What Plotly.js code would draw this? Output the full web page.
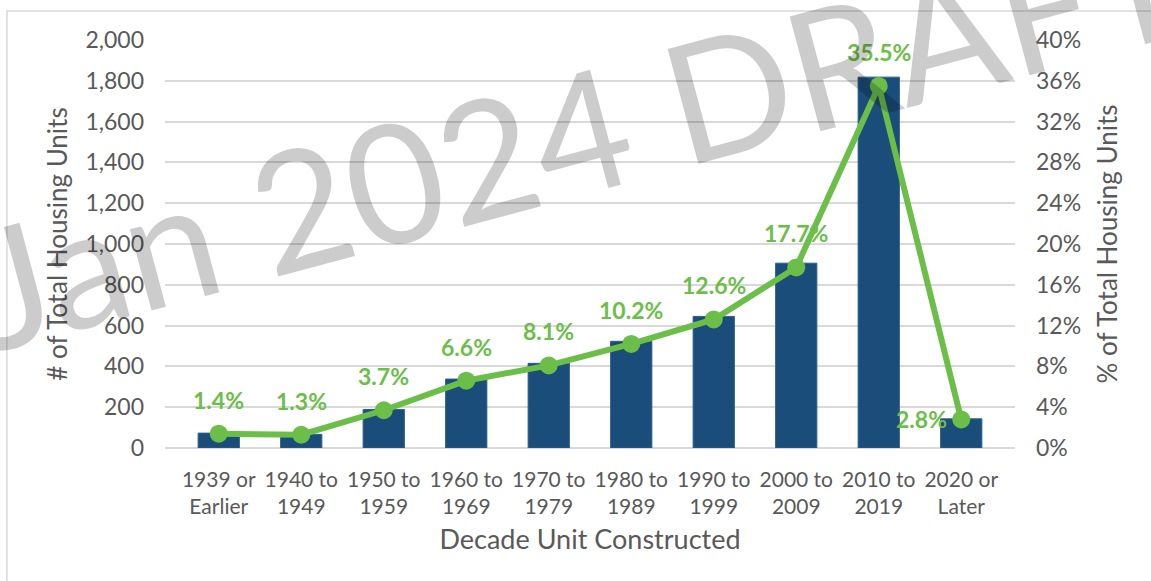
<!DOCTYPE html>
<html>
<head>
<meta charset="utf-8">
<script src="https://cdn.plot.ly/plotly-3.0.1.min.js"></script>
<style>
  html, body { margin: 0; padding: 0; background: #fff; }
  #chart { width: 1151px; height: 581px; }
</style>
</head>
<body>
<div id="chart"></div>
<script>
// Housing units by decade built
const decades = [
  "1939 or<br>Earlier", "1940 to<br>1949", "1950 to<br>1959", "1960 to<br>1969", "1970 to<br>1979",
  "1980 to<br>1989", "1990 to<br>1999", "2000 to<br>2009", "2010 to<br>2019", "2020 or<br>Later"
];
const unitCounts = [73, 67, 189, 338, 415, 523, 645, 906, 1818, 143];
const unitShares = [0.014, 0.013, 0.037, 0.066, 0.081, 0.102, 0.126, 0.177, 0.355, 0.028];
const shareLabels = ["1.4%", "1.3%", "3.7%", "6.6%", "8.1%", "10.2%", "12.6%", "17.7%", "35.5%", "2.8%"];
const countTicks = [0, 200, 400, 600, 800, 1000, 1200, 1400, 1600, 1800, 2000];
const shareTicks = [0, 0.04, 0.08, 0.12, 0.16, 0.20, 0.24, 0.28, 0.32, 0.36, 0.40];

const barColor = "#1a4d7a";
const lineColor = "#6bbe48";
const textColor = "#595959";
const gridColor = "#d9d9d9";
const fontFamily = "Lato, 'Noto Sans', sans-serif";

// Bars for counts (left axis)
const barTrace = {
  x: decades,
  y: unitCounts,
  type: "bar",
  marker: { color: barColor, line: { color: "#2c5f8c", width: 1 } },
  hoverinfo: "skip",
};

// Line for share (right axis)
const lineTrace = {
  x: decades,
  y: unitShares,
  yaxis: "y2",
  type: "scatter",
  mode: "lines+markers",
  line: { color: lineColor, width: 6 },
  marker: { color: lineColor, size: 18 },
  hoverinfo: "skip",
};

// Data labels, placed above each point (last one to the left)
const labelAnnotations = shareLabels.map((label, i) => {
  const isLast = i === shareLabels.length - 1;
  return {
    x: decades[i],
    y: unitShares[i],
    xref: "x",
    yref: "y2",
    text: "<b>" + label + "</b>",
    showarrow: false,
    font: { family: fontFamily, size: 23, color: lineColor },
    xanchor: isLast ? "right" : "center",
    yanchor: "middle",
    xshift: isLast ? -12 : 0,
    yshift: isLast ? 0 : 34,
  };
});

// "Jan 2024 DRAFT" watermark across the chart
const watermark = {
  text: "Jan 2024 DRAFT",
  xref: "paper",
  yref: "paper",
  x: 0.49,
  y: 0.784,
  xanchor: "center",
  yanchor: "middle",
  showarrow: false,
  textangle: -15,
  font: { family: fontFamily, size: 166, color: "rgba(0,0,0,0.2)" },
};

const layout = {
  width: 1151,
  height: 581,
  margin: { l: 165, r: 136, t: 40, b: 133 },
  paper_bgcolor: "#fff",
  plot_bgcolor: "#fff",
  font: { family: fontFamily, color: textColor },
  showlegend: false,
  bargap: 0.5,
  xaxis: {
    type: "category",
    tickfont: { size: 21, color: textColor },
    ticks: "",
    ticklabelstandoff: 17,
    showline: false,
    title: { text: "Decade Unit Constructed", font: { size: 27, color: textColor }, standoff: 12 },
  },
  yaxis: {
    range: [0, 2000],
    tickvals: countTicks,
    tickformat: ",d",
    tickfont: { size: 23, color: textColor },
    ticks: "",
    ticklabelstandoff: 20,
    showgrid: true,
    gridcolor: gridColor,
    gridwidth: 2,
    zeroline: true,
    zerolinecolor: gridColor,
    zerolinewidth: 2,
    title: { text: "# of Total Housing Units", font: { size: 26, color: textColor }, standoff: 10 },
  },
  yaxis2: {
    overlaying: "y",
    side: "right",
    range: [0, 0.4],
    tickvals: shareTicks,
    tickformat: ".0%",
    tickfont: { size: 23, color: textColor },
    ticks: "",
    ticklabelstandoff: 20,
    showgrid: false,
    zeroline: false,
    title: { text: "% of Total Housing Units", font: { size: 26, color: textColor }, standoff: 18 },
  },
  shapes: [{
    type: "rect",
    xref: "paper",
    yref: "paper",
    x0: -0.186, x1: 1.2,
    y0: -0.4, y1: 1.071,
    line: { color: gridColor, width: 1.5 },
    layer: "below",
  }],
  annotations: labelAnnotations.concat([watermark]),
};

Plotly.newPlot("chart", [barTrace, lineTrace], layout, { displayModeBar: false, staticPlot: true });
</script>
</body>
</html>
